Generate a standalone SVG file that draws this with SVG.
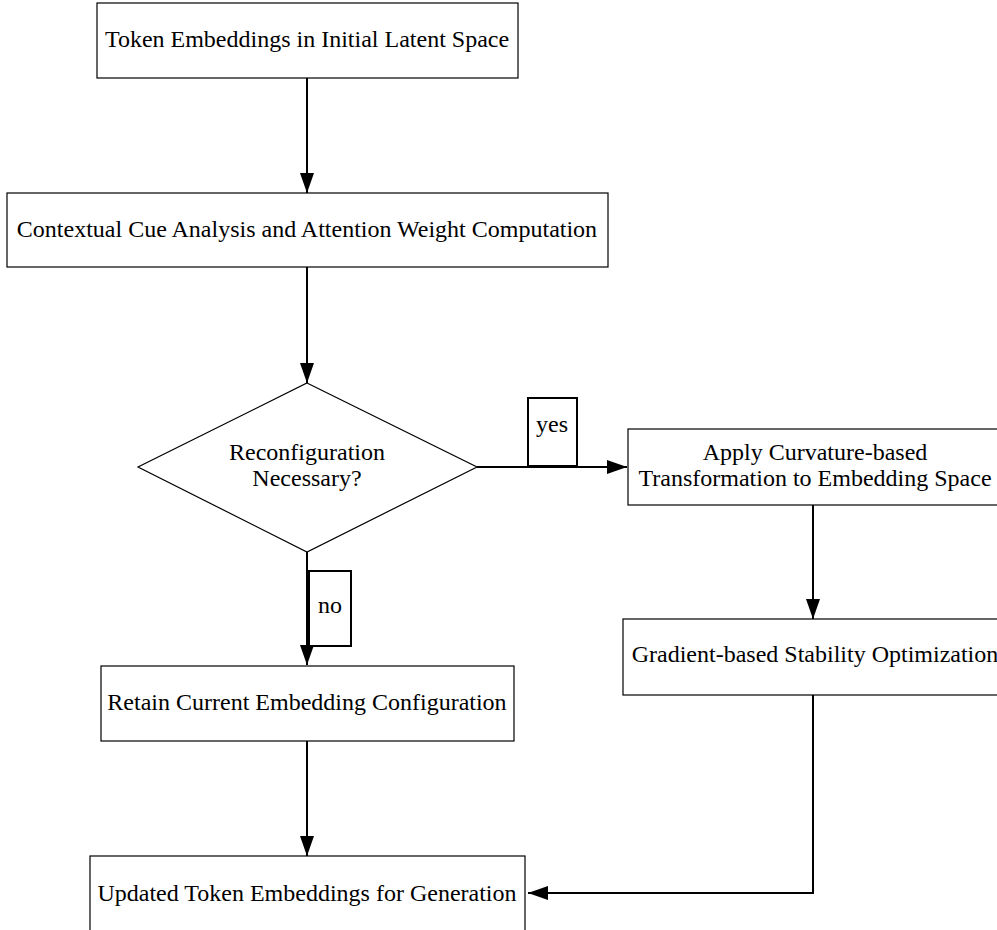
<svg xmlns="http://www.w3.org/2000/svg" width="997" height="930" viewBox="0 0 997 930">
<style>
.box{fill:#fff;stroke:#000;stroke-width:1.2}
.lbl{fill:#fff;stroke:#000;stroke-width:2}
.t{font-family:"Liberation Serif","Times New Roman",serif;font-size:24px;fill:#000;text-anchor:middle}
.c{fill:none;stroke:#000;stroke-width:2}
</style>
<defs>
<marker id="ah" markerWidth="20" markerHeight="14" refX="20" refY="7" orient="auto" markerUnits="userSpaceOnUse">
<path d="M0,0 L20,7 L0,14 Z" fill="#000"/>
</marker>
</defs>
<rect width="997" height="930" fill="#fff"/>
<g id="connectors">
<line class="c" x1="307" y1="78" x2="307" y2="193" marker-end="url(#ah)"/>
<line class="c" x1="307" y1="267" x2="307" y2="383" marker-end="url(#ah)"/>
<line class="c" x1="477" y1="467" x2="627" y2="467" marker-end="url(#ah)"/>
<line class="c" x1="307" y1="552" x2="307" y2="665" marker-end="url(#ah)"/>
<line class="c" x1="813" y1="505" x2="813" y2="619" marker-end="url(#ah)"/>
<line class="c" x1="307" y1="741" x2="307" y2="856" marker-end="url(#ah)"/>
<polyline class="c" points="813,695 813,893 528,893" marker-end="url(#ah)"/>
</g>
<g id="n1">
<rect class="box" x="97" y="3" width="421" height="75"/>
<text class="t" x="307" y="47">Token Embeddings in Initial Latent Space</text>
</g>
<g id="n2">
<rect class="box" x="7" y="193" width="601" height="74"/>
<text class="t" x="307" y="237">Contextual Cue Analysis and Attention Weight Computation</text>
</g>
<g id="n3">
<polygon class="box" points="307,383 477,467 307,552 138,467"/>
<text class="t" x="307" y="460">Reconfiguration</text>
<text class="t" x="307" y="486">Necessary?</text>
</g>
<g id="lyes">
<rect class="lbl" x="528" y="398" width="49" height="68"/>
<text class="t" x="552" y="432">yes</text>
</g>
<g id="n4">
<rect class="box" x="628" y="429" width="385" height="76"/>
<text class="t" x="815" y="460">Apply Curvature-based</text>
<text class="t" x="815" y="486">Transformation to Embedding Space</text>
</g>
<g id="n5">
<rect class="box" x="623" y="619" width="390" height="76"/>
<text class="t" x="815" y="662">Gradient-based Stability Optimization</text>
</g>
<g id="lno">
<rect class="lbl" x="309" y="571" width="42" height="75"/>
<text class="t" x="330" y="613">no</text>
</g>
<g id="n6">
<rect class="box" x="101" y="666" width="413" height="75"/>
<text class="t" x="307" y="710">Retain Current Embedding Configuration</text>
</g>
<g id="n7">
<rect class="box" x="90" y="856" width="435" height="85"/>
<text class="t" x="307" y="901">Updated Token Embeddings for Generation</text>
</g>
</svg>
